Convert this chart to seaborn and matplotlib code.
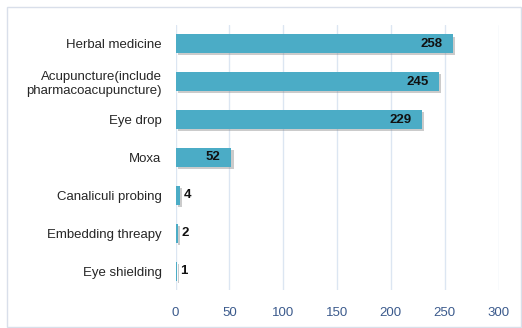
import matplotlib
matplotlib.use("Agg")
import matplotlib.pyplot as plt
import matplotlib.patheffects as pe
from matplotlib.patches import Rectangle
import seaborn as sns
import pandas as pd

treatments = [
    "Herbal medicine",
    "Acupuncture(include\npharmacoacupuncture)",
    "Eye drop",
    "Moxa",
    "Canaliculi probing",
    "Embedding threapy",
    "Eye shielding",
]
counts = [258, 245, 229, 52, 4, 2, 1]
x_ticks = [0, 50, 100, 150, 200, 250, 300]

df = pd.DataFrame({"treatment": treatments, "count": counts})

sns.set_theme(style="white")
plt.rcParams["font.family"] = ["Liberation Sans", "DejaVu Sans"]

fig = plt.figure(figsize=(5.22, 3.28), dpi=100)
fig.patch.set_facecolor("white")
fig.patches.append(Rectangle((7 / 522, 1 / 328), 514 / 522, 320 / 328,
                             transform=fig.transFigure, fill=False,
                             edgecolor="#D9DFEA", linewidth=1.0))

ax = fig.add_axes([175.5 / 522, 1 - 290 / 328, 323 / 522, 265 / 328])
sns.barplot(data=df, x="count", y="treatment", color="#4BACC6",
            width=0.5, saturation=1, linewidth=0, edgecolor="none",
            ax=ax, zorder=3)

for bar in ax.patches:
    bar.set_path_effects([pe.SimplePatchShadow(offset=(1.5, -1.5),
                                               shadow_rgbFace="#7F7F7F",
                                               alpha=0.4),
                          pe.Normal()])

for i, v in enumerate(counts):
    if v > 20:
        ax.text(v - 10, i, str(v), ha="right", va="center",
                fontsize=9.5, fontweight="bold", color="#111111", zorder=5)
    else:
        ax.text(v + 3.5, i, str(v), ha="left", va="center",
                fontsize=9.5, fontweight="bold", color="#111111", zorder=5)

ax.set_xlim(0, 300)
ax.set_ylim(6.5, -0.5)
ax.set_xticks(x_ticks)
ax.set_xticklabels([str(t) for t in x_ticks], color="#3B5A8C", fontsize=9.5)
ax.tick_params(axis="y", labelsize=9.5, colors="#262626", pad=10, length=0)
ax.tick_params(axis="x", length=0, pad=12)
ax.set_xlabel("")
ax.set_ylabel("")
ax.xaxis.grid(True, color="#DCE6F2", linewidth=1.0, zorder=0)
ax.set_axisbelow(True)
for s in ax.spines.values():
    s.set_visible(False)

fig.savefig("out.png", dpi=100, facecolor="white")
